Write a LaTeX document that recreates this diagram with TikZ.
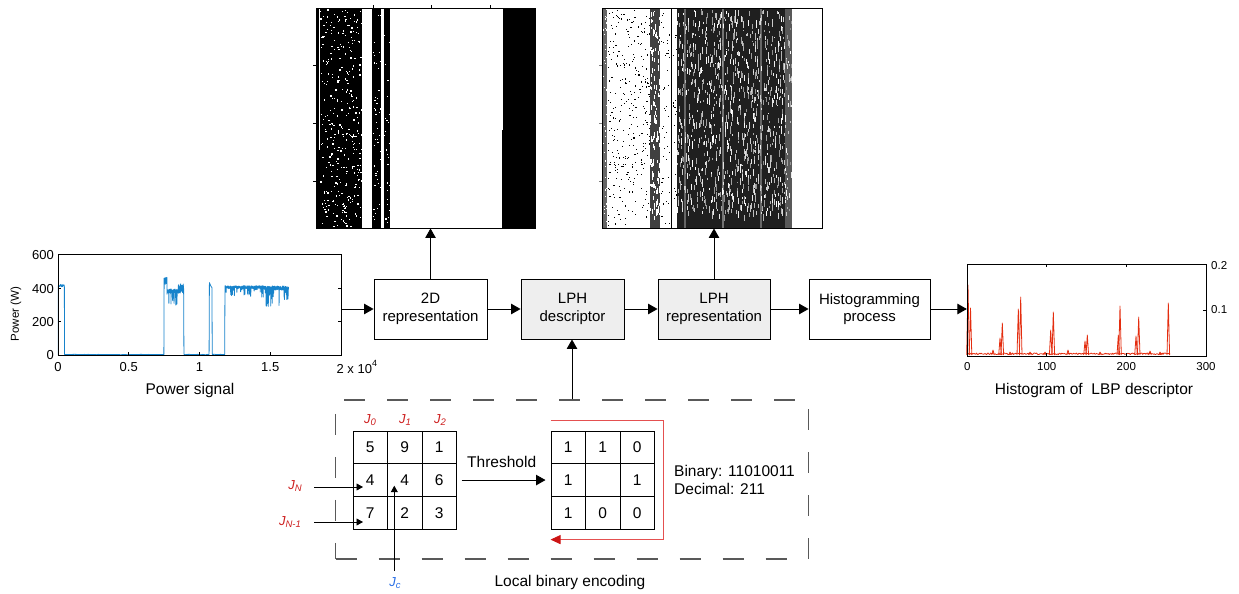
\documentclass[tikz,border=0pt]{standalone}
\usepackage{fontspec}
\setmainfont{Liberation Sans}
\usetikzlibrary{arrows.meta}
\definecolor{sigblue}{RGB}{23,131,203}
\definecolor{histred}{RGB}{228,45,15}
\definecolor{lblred}{RGB}{205,30,30}
\definecolor{lblblue}{RGB}{40,110,230}
\definecolor{boxgray}{RGB}{238,238,238}
\definecolor{pathred}{RGB}{228,80,80}
\definecolor{arrred}{RGB}{205,20,20}
\begin{document}
\begin{tikzpicture}[x=1pt,y=-1pt]
\tikzset{
  lbl/.style={inner sep=0pt, font=\fontsize{15.5}{18}\selectfont},
  ltick/.style={inner sep=0pt, font=\fontsize{13}{15}\selectfont},
  rtick/.style={inner sep=0pt, font=\fontsize{11.5}{13}\selectfont},
  procbox/.style={draw=black, line width=0.9pt, inner sep=0pt, minimum height=60pt, align=center, font=\fontsize{15}{17.5}\selectfont},
  arr/.style={line width=0.9pt, -{Triangle[length=9.5pt,width=10.5pt]}},
  sarr/.style={line width=0.8pt, -{Triangle[length=6.5pt,width=7pt]}},
  cellbox/.style={draw=black, line width=1pt, minimum width=34.5pt, minimum height=32.7pt, inner sep=0pt, font=\fontsize{15.5}{18}\selectfont},
  jl/.style={inner sep=0pt, text=lblred, font=\fontsize{13}{15}\selectfont\itshape},
  framebox/.style={draw=black, line width=0.9pt, inner sep=0pt},
  thin tick/.style={line width=0.6pt}
}
\newcommand{\Jsub}[1]{J\raisebox{-2.5pt}{\fontsize{9.5}{10}\selectfont #1}}
\useasboundingbox (0,0) rectangle (1239,594);
\pgfmathsetseed{12345}

% ---------------- left plot: power signal ----------------
\begin{scope}[shift={(58,355)}, x=141.5pt, y=0.1683pt]
\draw[sigblue, line width=0.8pt, line join=round]
 (0.002,0) -- (0.002,410)
 -- plot[domain=0.002:0.045, samples=25] (\x,{412+7*rand})
 -- (0.046,4)
 -- plot[domain=0.046:0.749, samples=60] (\x,{3+1.2*rand})
 -- (0.75,440)
 -- plot[domain=0.75:0.77, samples=30] (\x,{440+22*rand})
 -- plot[domain=0.77:0.85, samples=120] (\x,{380+12*rand-(rnd>0.85)*90*rnd})
 -- plot[domain=0.85:0.888, samples=60] (\x,{395+28*rand})
 -- (0.89,4)
 -- plot[domain=0.89:1.068, samples=20] (\x,{3+1.2*rand})
 -- (1.07,430) -- (1.08,410) -- (1.088,400) -- (1.09,4)
 -- plot[domain=1.09:1.178, samples=10] (\x,{3+1.2*rand})
 -- (1.18,390)
 -- plot[domain=1.18:1.45, samples=330] (\x,{403+9*rand-(rnd>0.88)*60*rnd})
 -- plot[domain=1.45:1.63, samples=220] (\x,{398+12*rand-(rnd>0.82)*120*rnd});
\end{scope}
\node[framebox, minimum width=283pt, minimum height=101pt] (sig) at (199.5,304.5) {};
\foreach \yy in {288.7,321.7} {
  \draw[thin tick] (58,\yy) -- ++(3,0);
  \draw[thin tick] (341,\yy) -- ++(-3,0);
}
\foreach \xx in {128.75,199.5,270.25} {\draw[thin tick] (\xx,355) -- ++(0,-3);}
\node[ltick, anchor=east] at (54,255) {600};
\node[ltick, anchor=east] at (54,289) {400};
\node[ltick, anchor=east] at (54,322) {200};
\node[ltick, anchor=east] at (54,355) {0};
\node[ltick] at (58,367) {0};
\node[ltick] at (128.75,367) {0.5};
\node[ltick] at (199.5,367) {1};
\node[ltick] at (270.25,367) {1.5};
\node[ltick, anchor=west] at (336.4,367) {2 x 10\raisebox{7pt}{\fontsize{9}{10}\selectfont 4}};
\node[inner sep=0pt, rotate=90, font=\fontsize{11.5}{13}\selectfont] at (16,314) {Power (W)};
\node[lbl] at (190,390) {Power signal};

% ---------------- top image 1 ----------------
\fill[black] (317,8) rectangle (361.5,228);
\fill[white] (318.6,9) rectangle (319.6,150);
\fill[black] (372,8) rectangle (381,228);
\fill[black] (383.5,8) rectangle (389.5,228);
\fill[black] (503,8) rectangle (535,130);
\fill[black] (501.7,130) rectangle (535,228);
\foreach \i in {1,...,330} {\fill[white] ({320+41*rnd},{9+217*rnd}) rectangle ++(1.3,1.3);}
\foreach \i in {1,...,45} {\fill[white] ({372.5+8*rnd},{9+217*rnd}) rectangle ++(1.2,1.2);}
\foreach \i in {1,...,25} {\fill[white] ({384+5*rnd},{9+217*rnd}) rectangle ++(1.2,1.2);}
\node[framebox, minimum width=219pt, minimum height=220pt] (img1) at (425.5,118) {};
\foreach \xx in {373,431,490} {\draw[thin tick] (\xx,8) -- ++(0,-3);}
\foreach \yy in {65.7,123,181.7} {\draw[thin tick] (316,\yy) -- ++(-3,0);}

% ---------------- top image 2 ----------------
\fill[black!60] (602.5,8.5) rectangle (607,227.5);
\foreach \i in {1,...,40} {\fill[white] ({603+3.5*rnd},{9+217*rnd}) rectangle ++(1,1.2);}
\foreach \i in {1,...,300} {\fill[black] ({607.5+42*rnd},{9+217*rnd}) rectangle ++(1.1,1.1);}
\fill[black!75] (650,8.5) rectangle (660,227.5);
\foreach \i in {1,...,120} {\fill[white] ({650+9.5*rnd},{9+210*rnd}) rectangle ++(0.8,{1.5+5*rnd});}
\foreach \i in {1,...,45} {\fill[black] ({661+8.5*rnd},{9+217*rnd}) rectangle ++(1.1,1.1);}
\fill[black] (670.5,8.5) rectangle (672,227.5);
\foreach \i in {1,...,20} {\fill[black] ({672.5+4*rnd},{9+217*rnd}) rectangle ++(1.1,1.1);}
\fill[black!88] (677,8.5) rectangle (792,227.5);
\fill[black!60] (684,8.5) rectangle (685.5,227.5);
\fill[black!55] (722,8.5) rectangle (723.5,227.5);
\fill[black!60] (760,8.5) rectangle (761.5,227.5);
\fill[black!65] (785,8.5) rectangle (792,227.5);
\foreach \i in {1,...,1000} {
  \pgfmathsetmacro\sg{int(45*rnd)}
  \fill[black!\sg] ({677+114*rnd},{9+206*rnd}) rectangle ++(0.9,{1.5+6*rnd});
}
\node[framebox, minimum width=220pt, minimum height=220pt] (img2) at (712,118) {};
\foreach \yy in {65.7,123,181.7} {\draw[thin tick, black!50] (602,\yy) -- ++(-3,0);}

% ---------------- process boxes ----------------
\node[procbox, minimum width=113pt] (rep2d) at (430.5,309) {2D\\representation};
\node[procbox, minimum width=103pt, fill=boxgray] (lphdesc) at (572.5,309) {LPH\\descriptor};
\node[procbox, minimum width=112pt, fill=boxgray] (lphrep) at (714,309) {LPH\\representation};
\node[procbox, minimum width=121pt] (histo) at (869.5,309) {Histogramming\\process};

% ---------------- right plot: histogram ----------------
\draw[histred, line width=0.8pt, line join=round]
 plot[domain=968:1170, samples=260] (\x,{354.6-1.6*rnd});
\foreach \xx/\yy in {968/285,970.5/308,1000/338,1002.3/323,1018.3/309,1020.7/297,1050.7/330,1053.3/312,1085/341,1087.3/335,1118.3/335,1120/306,1136/336,1138.7/317,1168.3/303,993/350,1010/352,1030/352,1045/352,1068/350,1100/352,1150/351,1160/352}
 {\draw[histred, line width=0.8pt, line join=round] (\xx-1.3,355) -- (\xx,\yy) -- (\xx+1.3,355);}
\node[framebox, minimum width=238.7pt, minimum height=92pt] (hplot) at (1086.65,310) {};
\foreach \xx in {1046.7,1126.3} {
  \draw[thin tick] (\xx,264) -- ++(0,3);
  \draw[thin tick] (\xx,356) -- ++(0,-3);
}
\draw[thin tick] (1206,310) -- ++(-3,0);
\node[rtick] at (967.3,367) {0};
\node[rtick] at (1046.7,367) {100};
\node[rtick] at (1126.3,367) {200};
\node[rtick] at (1206,367) {300};
\node[rtick, anchor=west] at (1211,310) {0.1};
\node[rtick, anchor=west] at (1211,266) {0.2};
\node[lbl] at (1094,390) {Histogram of\ \ LBP descriptor};

% ---------------- main connectors ----------------
\draw[arr] (sig.east |- rep2d.west) -- (rep2d.west);
\draw[arr] (rep2d.east) -- (lphdesc.west);
\draw[arr] (lphdesc.east) -- (lphrep.west);
\draw[arr] (lphrep.east) -- (histo.west);
\draw[arr] (histo.east) -- (hplot.west |- histo.east);
\draw[arr] (rep2d.north) -- (rep2d.north |- img1.south);
\draw[arr] (lphrep.north) -- (lphrep.north |- img2.south);

% ---------------- local binary encoding ----------------
\node[draw=black!65, dash pattern=on 21pt off 22pt, line width=1.3pt, minimum width=472.6pt, minimum height=159pt, inner sep=0pt] (enc) at (572,479.5) {};
\draw[arr] (enc.north) -- (enc.north |- lphdesc.south);
\node[lbl] (enclbl) at (570,582) {Local binary encoding};

% grid 1
\node[cellbox] (g11) at (370.25,447.35) {5};
\node[cellbox] (g12) at (404.75,447.35) {9};
\node[cellbox] (g13) at (439.25,447.35) {1};
\node[cellbox] (g21) at (370.25,480.05) {4};
\node[cellbox] (g22) at (404.75,480.05) {4};
\node[cellbox] (g23) at (439.25,480.05) {6};
\node[cellbox] (g31) at (370.25,512.75) {7};
\node[cellbox] (g32) at (404.75,512.75) {2};
\node[cellbox] (g33) at (439.25,512.75) {3};

% grid 2
\node[cellbox] (h11) at (568.25,447.35) {1};
\node[cellbox] (h12) at (602.75,447.35) {1};
\node[cellbox] (h13) at (637.25,447.35) {0};
\node[cellbox] (h21) at (568.25,480.05) {1};
\node[cellbox] (h22) at (602.75,480.05) {};
\node[cellbox] (h23) at (637.25,480.05) {1};
\node[cellbox] (h31) at (568.25,512.75) {1};
\node[cellbox] (h32) at (602.75,512.75) {0};
\node[cellbox] (h33) at (637.25,512.75) {0};

% labels
\node[jl] (j0) at (370,420) {\Jsub{0}};
\node[jl] (j1) at (405,420) {\Jsub{1}};
\node[jl] (j2) at (440,420) {\Jsub{2}};
\node[jl] (jN) at (295,486) {\Jsub{N}};
\node[jl] (jN1) at (290,522) {\Jsub{N-1}};
\node[jl, text=lblblue] (jc) at (395,583) {\Jsub{c}};
\coordinate (jNend) at (363,487);
\coordinate (jN1end) at (363,522);
\coordinate (jcend) at (394.3,485.7);
\draw[sarr] (314,487) -- (jNend);
\draw[sarr] (314,522) -- (jN1end);
\draw[sarr] ([yshift=6pt]jc.north -| jcend) -- (jcend);

% threshold
\draw[arr] ([xshift=4.5pt]g23.east) -- ([xshift=-5pt]h21.west);
\node[lbl] (thr) at (501.7,461.7) {Threshold};

% red reading path
\draw[pathred, line width=0.9pt, -{Triangle[length=10pt,width=9pt,color=arrred]}]
  ([yshift=10pt]h11.north west) -| ([xshift=8pt,yshift=-10pt]h33.south east) -- ([yshift=-10pt]h31.south west);

\node[lbl, anchor=west, align=left, font=\fontsize{15.5}{18}\selectfont] (bin) at (674,480) {Binary: 11010011\\Decimal: 211};
\end{tikzpicture}
\end{document}
